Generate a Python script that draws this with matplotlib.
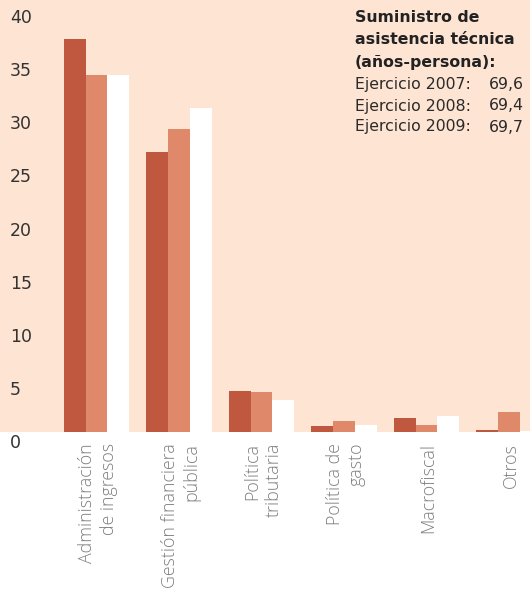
import numpy as np
import matplotlib.pyplot as plt
from matplotlib import transforms

categories = ["Administración\nde ingresos", "Gestión financiera\npública", "Política\ntributaria",
              "Política de\ngasto", "Macrofiscal", "Otros"]
y2007 = [37.0, 26.4, 3.9, 0.6, 1.3, 0.2]
y2008 = [33.6, 28.5, 3.8, 1.0, 0.7, 1.9]
y2009 = [33.6, 30.5, 3.0, 0.7, 1.5, 0.1]
yticks = [0, 5, 10, 15, 20, 25, 30, 35, 40]
box_title = ["Suministro de", "asistencia técnica", "(años-persona):"]
box_years = ["Ejercicio 2007:", "Ejercicio 2008:", "Ejercicio 2009:"]
box_totals = ["69,6", "69,4", "69,7"]

peach = '#fde4d3'
dark = '#c0583f'
salmon = '#e0896a'

fig = plt.figure(figsize=(5.3, 5.96), dpi=100)
ax = fig.add_axes([0, 1 - 432/596, 1, 432/596])
ax.set_facecolor(peach)

x = np.arange(len(categories))
w = 0.263
ax.bar(x - w, y2007, w, color=dark, lw=0)
ax.bar(x, y2008, w, color=salmon, lw=0)
ax.bar(x + w, y2009, w, color='white', lw=0)

ax.set_xlim(-1.17, 5.255)
ax.set_ylim(0, 40.66)
for s in ax.spines.values():
    s.set_visible(False)
ax.set_xticks([])
ax.set_yticks([])

# y labels sit a bit below their value
off = transforms.ScaledTranslation(0, -0.11, fig.dpi_scale_trans)
tr = transforms.blended_transform_factory(ax.transAxes, ax.transData) + off
for t in yticks:
    ax.text(10/530, t, str(t), transform=tr, ha='left', va='center',
            fontsize=12.5, color='#333333', clip_on=False)

off2 = transforms.ScaledTranslation(0, -0.11, fig.dpi_scale_trans)
for i, c in enumerate(categories):
    ax.text(i + 0.02, 0, c, transform=ax.transData + off2, rotation=90,
            ha='center', va='top', multialignment='right', linespacing=1.25,
            fontsize=12.75, color='#7e7e7e', family='Open Sans', fontweight='light',
            clip_on=False)

# note box, top right
for k, line in enumerate(box_title):
    fig.text(355/530, 1 - (17 + 22.5*k)/596, line, ha='left', va='center', fontsize=11.3,
             fontweight='bold', color='#222222')
for k in range(3):
    yy = 1 - (85 + 21*k)/596
    fig.text(355/530, yy, box_years[k], ha='left', va='center', fontsize=11.3, color='#2a2a2a')
    fig.text(524/530, yy, box_totals[k], ha='right', va='center', fontsize=11.3, color='#2a2a2a')

plt.savefig('out.png', dpi=100, facecolor='white')
